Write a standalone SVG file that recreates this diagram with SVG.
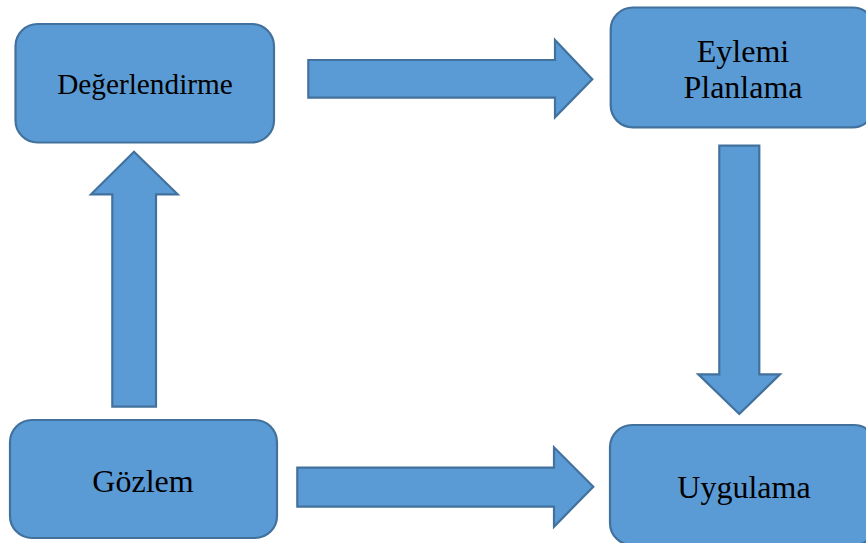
<svg xmlns="http://www.w3.org/2000/svg" width="866" height="543" viewBox="0 0 866 543">
<style>
.box{fill:#5B9BD5;stroke:#41719C;stroke-width:2.2}
.arr{fill:#5B9BD5;stroke:#41719C;stroke-width:2.2;stroke-linejoin:miter}
.t{fill:#000;text-anchor:middle}
</style>
<rect width="866" height="543" fill="#fff"/>
<g id="degerlendirme">
<rect class="box" x="15.5" y="24" width="258.5" height="118.5" rx="22"/>
<text class="t" x="145" y="94" font-size="29.3" font-family="Liberation Serif, Tinos, Times New Roman, serif">Değerlendirme</text>
</g>
<g id="eylemi-planlama">
<rect class="box" x="610.7" y="7.5" width="264" height="119.8" rx="22"/>
<text class="t" x="743" y="61.7" font-size="32" font-family="Liberation Serif, Tinos, Times New Roman, serif">Eylemi</text>
<text class="t" x="743" y="98.3" font-size="32" font-family="Liberation Serif, Tinos, Times New Roman, serif">Planlama</text>
</g>
<g id="gozlem">
<rect class="box" x="10" y="420" width="267" height="118" rx="22"/>
<text class="t" x="143" y="491.7" font-size="32" font-family="Liberation Serif, Tinos, Times New Roman, serif">Gözlem</text>
</g>
<g id="uygulama">
<rect class="box" x="610" y="425" width="266" height="120" rx="22"/>
<text class="t" x="744" y="498.3" font-size="32" font-family="Liberation Serif, Tinos, Times New Roman, serif">Uygulama</text>
</g>
<g id="connectors">
<path class="arr" d="M308.3,60 L555,60 L555,40 L592.3,79.3 L555,117.3 L555,97.7 L308.3,97.7 Z"/>
<path class="arr" d="M719.3,145.7 L759.3,145.7 L759.3,374.3 L780,374.3 L739.3,414 L698.3,374.3 L719.3,374.3 Z"/>
<path class="arr" d="M297.3,467.7 L554,467.7 L554,447.3 L593.3,486.7 L554,526.7 L554,506.7 L297.3,506.7 Z"/>
<path class="arr" d="M112.3,406.7 L112.3,194.3 L91,194.3 L134,151.7 L177.7,194.3 L156,194.3 L156,406.7 Z"/>
</g>
</svg>
